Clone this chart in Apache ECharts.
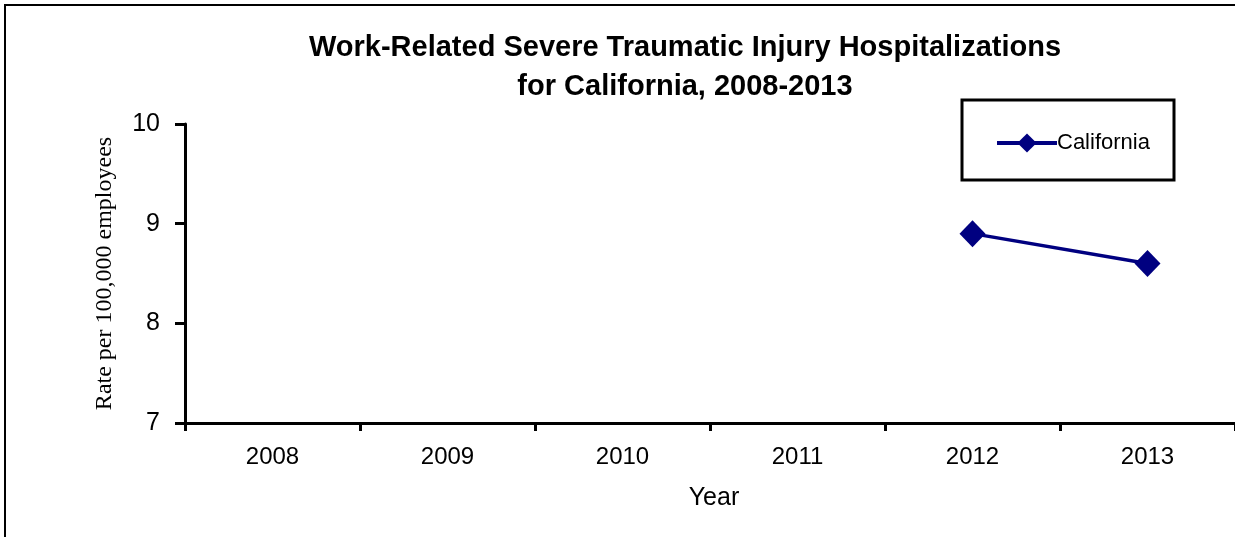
<!DOCTYPE html>
<html><head><meta charset="utf-8">
<script src="https://cdn.jsdelivr.net/npm/echarts@6/dist/echarts.min.js"></script>
<style>html,body{margin:0;padding:0;background:#fff}#c{width:1235px;height:537px}</style>
</head><body><div id="c"></div>
<script>
const categories = ['2008','2009','2010','2011','2012','2013'];
const californiaValues = [null, null, null, null, 8.9, 8.6];
const yTicks = [7, 8, 9, 10];
const seriesName = 'California';

const chart = echarts.init(document.getElementById('c'), null, {renderer:'canvas'});
const navy = '#000080';
chart.setOption({
  animation:false,
  backgroundColor:'#fff',
  title:{
    text:'Work-Related Severe Traumatic Injury Hospitalizations\nfor California, 2008-2013',
    left:680, top:23, textAlign:'center',
    textStyle:{fontFamily:'Liberation Sans, Arial', fontWeight:'bold', fontSize:29, lineHeight:39, color:'#000'}
  },
  graphic:[
    {type:'rect', shape:{x:5,y:5,width:1400,height:700}, style:{fill:'none', stroke:'#000', lineWidth:2}, silent:true},
    {type:'rect', shape:{x:962,y:100,width:212,height:80}, style:{fill:'#fff', stroke:'#000', lineWidth:3}, silent:true, z:5}
  ],
  legend:{
    data:[seriesName], left:990, top:127, itemWidth:60, itemHeight:24, itemGap:0, z:10,
    lineStyle:{width:4},
    textStyle:{fontFamily:'Liberation Sans, Arial', fontSize:22, color:'#000', padding:[0,0,0,-5]}
  },
  grid:{left:185, right:-2, top:124, bottom:114, containLabel:false},
  xAxis:{
    type:'category', data:categories, boundaryGap:true,
    name:'Year', nameLocation:'middle', nameGap:63,
    nameTextStyle:{fontFamily:'Liberation Sans, Arial', fontSize:25, color:'#000', padding:[0,0,0,8]},
    axisLine:{lineStyle:{color:'#000', width:3}},
    axisTick:{show:true, alignWithLabel:false, length:8, lineStyle:{color:'#000', width:3}},
    axisLabel:{margin:22, fontFamily:'Liberation Sans, Arial', fontSize:24, color:'#000'},
    splitLine:{show:false}
  },
  yAxis:{
    type:'value', min:7, max:10, interval:1,
    name:'Rate per 100,000 employees', nameLocation:'middle', nameGap:68,
    nameTextStyle:{fontFamily:'Liberation Serif, Times New Roman', fontSize:24, color:'#000'},
    axisLine:{show:true, lineStyle:{color:'#000', width:3}},
    axisTick:{show:true, length:10, lineStyle:{color:'#000', width:3}},
    axisLabel:{margin:25, fontFamily:'Liberation Sans, Arial', fontSize:25, color:'#000',
      formatter:v=>yTicks.includes(v)?String(v):''},
    splitLine:{show:false}
  },
  series:[{
    name:seriesName, type:'line', data:californiaValues, connectNulls:false,
    symbol:'diamond', symbolSize:[26,27],
    lineStyle:{color:navy, width:3.5}, itemStyle:{color:navy},
    z:3
  }]
});
</script></body></html>
